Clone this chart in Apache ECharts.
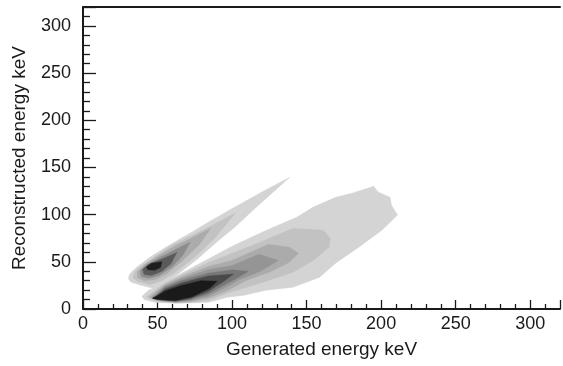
<!DOCTYPE html>
<html><head><meta charset="utf-8">
<script src="https://cdn.jsdelivr.net/npm/echarts@6/dist/echarts.min.js"></script>
<style>html,body{margin:0;padding:0;background:#fff}#c{width:563px;height:366px}</style>
</head><body><div id="c"></div>
<script>
// Axis settings (data units, keV)
const xRange = [0, 320];
const yRange = [0, 320];
const tickStep = 50;

// Upper band (escape band) contour levels, outermost -> innermost: [generated keV, reconstructed keV]
const upper1 = [[139,140],[120,124],[104,110],[100,106.5],[84,92],[72,80.5],[64,73.5],[56,66],[45,55],[36.5,45],[33,40],[31,36],[30.5,32],[32,28.5],[38,25.5],[47,22],[55,27.5],[63,36],[76,52],[89,70],[102,87],[117,109]];
const upper2 = [[102,101.5],[87,89],[72,77],[60,68],[48,55],[39,45.5],[34.5,39],[33.5,33],[37,29],[45,26],[53,30],[62,39],[75,55],[89,76]];
const upper3 = [[86,86],[74,76],[62,67],[50,56],[41,46.5],[36.5,39.5],[36.5,33.5],[41,30],[48,31],[56,37],[66,50],[78,68]];
const upper4 = [[72,71],[62,63],[52,55],[43,47],[38.5,40.5],[39,34.5],[44,32.5],[51,35.5],[60,45],[67,57]];
const upper5 = [[63,60],[53,53],[44,47.5],[40,42],[41,36.5],[46,35.5],[53,40],[59,48]];
const upper6 = [[53,50],[46,48.5],[42.5,44.5],[43.5,41.5],[48,41],[52,44]];

// Lower band (main band) contour levels, outermost -> innermost
const lower1 = [[39.5,13.5],[44,20],[50.5,25],[55,29],[62,34.5],[66,38],[84,53],[100,66.5],[123,83.5],[143,97],[154.5,108],[169.5,118.5],[181,123],[195,130],[198,124],[206,118.5],[207,110],[211,99.5],[200.5,83.5],[185,65.5],[169.5,48.5],[158.5,33.5],[141,23],[123,20],[108,14.5],[97,12.5],[84,7],[72,6.3],[62,6],[48.5,7],[41,10]];
const lower2 = [[42.5,13],[55,27.5],[66,36],[84,49],[100,59],[119,71],[141,85.5],[161,83.5],[166,75],[165,65.5],[154.5,51.5],[141,39],[125,30.5],[110,23],[97,17],[84,9],[72,7],[62,6.5],[50,8],[44,11]];
const lower3 = [[44.5,12.5],[55,26],[66,34],[84,45],[100,51.5],[113.5,61],[124.5,68.5],[138.5,65.5],[144.5,59],[138.5,49.5],[125,39],[110,30.5],[97,19.5],[84,11.5],[72,8],[62,7],[51,8.5],[46,11]];
const lower4 = [[46,12],[55,24.5],[66,32],[84,41.5],[100,46],[118,58],[131,51.5],[119,40],[105.5,31.5],[97,24],[84,13.5],[72,9],[62,7.5],[52,9],[47,11]];
const lower5 = [[47,11.5],[55,23],[66,30],[84,38],[100,41.5],[111,40],[102,31.5],[97,27.5],[84,16],[72,10],[62,8],[53,9.5],[48,10.8]];
const lower6 = [[47.5,11],[55,21],[66,27.5],[84,35],[101,37],[95.5,30.5],[84,18.5],[72,11],[62,8.5],[54,9.5],[49,10.5]];
const lower7 = [[46.5,11.5],[52.5,16.5],[55,19],[66,25],[79,30],[90,29.5],[85,22],[74,13.5],[72,12.5],[62,9],[55,9.5],[50,10]];

const upperLevels = [upper1, upper2, upper3, upper4, upper5, upper6];
const lowerLevels = [lower1, lower2, lower3, lower4, lower5, lower6, lower7];

// styles
const upperShades = ['#d4d4d4','#c2c2c2','#ababab','#8c8c8c','#5a5a5a','#1e1e1e'];
const lowerShades = ['#d4d4d4','#c2c2c2','#ababab','#959595','#777777','#4a4a4a','#1a1a1a'];
const ink = '#1a1a1a';
const font = 'Liberation Sans, Arial, Helvetica, sans-serif';

function contourSeries(name, levels, shades) {
  return {
    type: 'custom',
    name: name,
    coordinateSystem: 'cartesian2d',
    xAxisIndex: 0, yAxisIndex: 0,
    silent: true,
    animation: false,
    clip: true,
    data: levels.map((poly, i) => [poly[0][0], poly[0][1], i]),
    encode: { x: 0, y: 1 },
    renderItem: function (params, api) {
      const i = api.value(2);
      const pts = levels[i].map(p => api.coord(p));
      return {
        type: 'polygon',
        z2: i,
        shape: { points: pts },
        style: { fill: shades[i], stroke: shades[i], lineWidth: 0.4 }
      };
    }
  };
}

const chart = echarts.init(document.getElementById('c'), null, { renderer: 'canvas' });
const labelFmt = v => (v % tickStep === 0 ? String(v) : '');
chart.setOption({
  backgroundColor: '#ffffff',
  animation: false,
  grid: { left: 83, right: -4, top: 7, bottom: 57, containLabel: false },
  xAxis: [{
    type: 'value', min: xRange[0], max: xRange[1], interval: tickStep, position: 'bottom',
    name: 'Generated energy keV', nameLocation: 'middle', nameGap: 31,
    nameTextStyle: { fontFamily: font, fontSize: 19, color: ink },
    axisLine: { show: true, onZero: false, lineStyle: { color: ink, width: 2 } },
    axisTick: { show: true, inside: true, length: 9, lineStyle: { color: ink, width: 1.3 } },
    minorTick: { show: true, splitNumber: 5, length: 5, lineStyle: { color: ink, width: 1.3 } },
    axisLabel: { margin: 6, fontFamily: font, fontSize: 18, color: ink, formatter: labelFmt },
    splitLine: { show: false }, minorSplitLine: { show: false }
  }, {
    type: 'value', min: xRange[0], max: xRange[1], position: 'top',
    axisLine: { show: true, onZero: false, lineStyle: { color: ink, width: 2 } },
    axisTick: { show: false }, axisLabel: { show: false }, splitLine: { show: false }
  }],
  yAxis: [{
    type: 'value', min: yRange[0], max: yRange[1], interval: tickStep, position: 'left',
    name: 'Reconstructed energy keV', nameLocation: 'middle', nameGap: 54,
    nameTextStyle: { fontFamily: font, fontSize: 19, color: ink },
    axisLine: { show: true, onZero: false, lineStyle: { color: ink, width: 2 } },
    axisTick: { show: true, inside: true, length: 13, lineStyle: { color: ink, width: 1.3 } },
    minorTick: { show: true, splitNumber: 5, length: 7, lineStyle: { color: ink, width: 1.3 } },
    axisLabel: { margin: 12, fontFamily: font, fontSize: 18, color: ink, formatter: labelFmt },
    splitLine: { show: false }, minorSplitLine: { show: false }
  }],
  series: [
    contourSeries('upper band', upperLevels, upperShades),
    contourSeries('lower band', lowerLevels, lowerShades)
  ]
});
</script>
</body></html>
